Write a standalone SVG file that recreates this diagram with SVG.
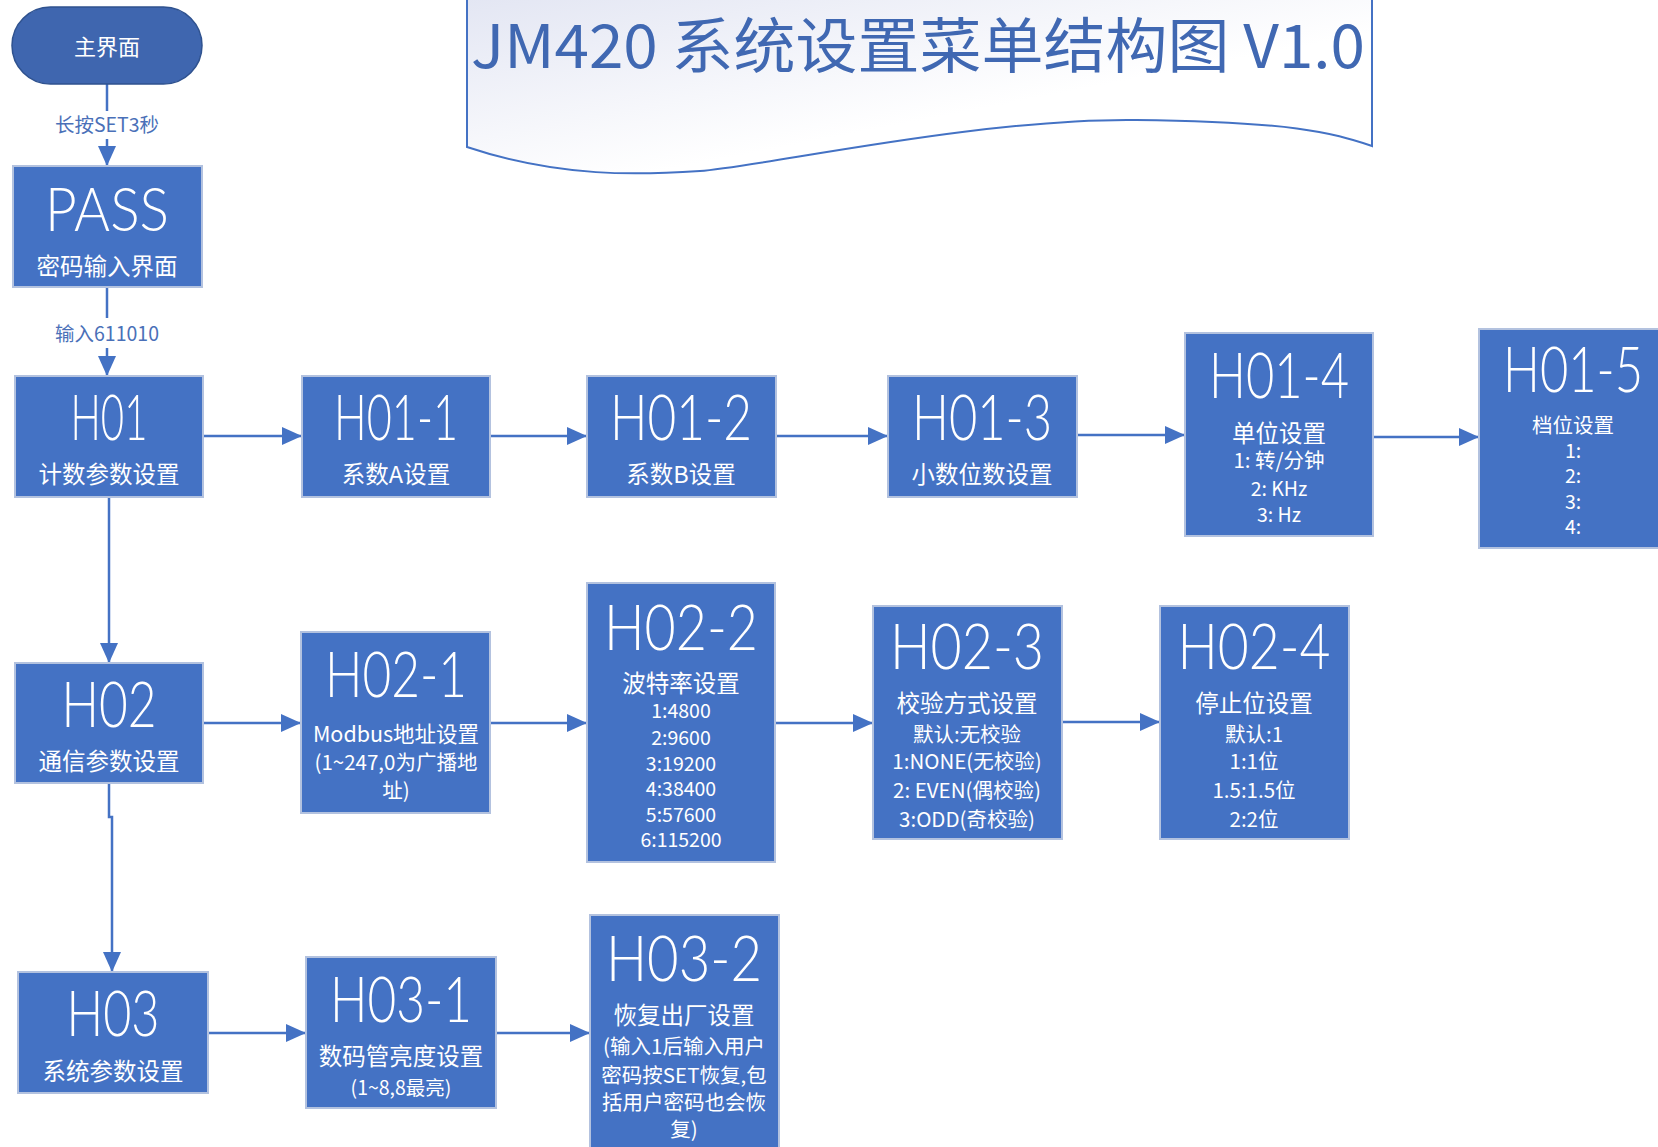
<svg xmlns="http://www.w3.org/2000/svg" width="1658" height="1147" viewBox="0 0 1658 1147">
<style>
.box{fill:#4472C4;stroke:#B3C2DF;stroke-width:2}
.big{font-family:Lato,"Open Sans","Liberation Sans",sans-serif;font-weight:300;font-size:64px;fill:#fff;text-anchor:middle}
.sub{font-family:"Noto Sans CJK SC","Noto Sans",sans-serif;font-size:23.5px;fill:#fff;text-anchor:middle}
.sm{font-family:"Noto Sans CJK SC","Noto Sans",sans-serif;font-size:20.5px;fill:#fff;text-anchor:middle}
.xs{font-family:"Noto Sans CJK SC","Noto Sans",sans-serif;font-size:19.5px;fill:#fff;text-anchor:middle}
.conn{fill:none;stroke:#4472C4;stroke-width:2.5}
.lbl{font-family:"Noto Sans CJK SC","Noto Sans",sans-serif;font-size:19.5px;fill:#4A70B8;text-anchor:middle}
</style>
<defs>
<marker id="arr" markerUnits="userSpaceOnUse" markerWidth="22" markerHeight="20" refX="20" refY="9" orient="auto">
<path d="M0,0 L20,9 L0,18 Z" fill="#4472C4"/>
</marker>
<linearGradient id="bg" x1="0" y1="0" x2="1" y2="1">
<stop offset="0" stop-color="#E3E6F3"/>
<stop offset="0.6" stop-color="#FFFFFF"/>
</linearGradient>
</defs>

<g id="title">
<path d="M467,-2 V147 C560,178 640,175 700,171 S980,118 1136,120 S1330,132 1372,146 V-2" fill="url(#bg)" stroke="#4472C4" stroke-width="2"/>
<text x="471" y="68" textLength="894" lengthAdjust="spacingAndGlyphs" font-family="'Noto Sans CJK SC','Noto Sans',sans-serif" font-size="60" fill="#4068B2">JM420 系统设置菜单结构图 V1.0</text>
</g>

<g id="connectors">
<path class="conn" d="M107,84 V166" marker-end="url(#arr)"/>
<rect x="50" y="111" width="115" height="28" fill="#fff"/>
<text class="lbl" x="107" y="132">长按SET3秒</text>
<path class="conn" d="M107,287 V376" marker-end="url(#arr)"/>
<rect x="50" y="318" width="115" height="30" fill="#fff"/>
<text class="lbl" x="107" y="341">输入611010</text>
<path class="conn" d="M203,436 H302" marker-end="url(#arr)"/>
<path class="conn" d="M490,436 H587" marker-end="url(#arr)"/>
<path class="conn" d="M776,436 H888" marker-end="url(#arr)"/>
<path class="conn" d="M1077,435 H1185" marker-end="url(#arr)"/>
<path class="conn" d="M1373,437 H1479" marker-end="url(#arr)"/>
<path class="conn" d="M109,497 V663" marker-end="url(#arr)"/>
<path class="conn" d="M109,783 V817 H112 V972" marker-end="url(#arr)"/>
<path class="conn" d="M203,723 H301" marker-end="url(#arr)"/>
<path class="conn" d="M490,723 H587" marker-end="url(#arr)"/>
<path class="conn" d="M775,723 H873" marker-end="url(#arr)"/>
<path class="conn" d="M1062,722 H1160" marker-end="url(#arr)"/>
<path class="conn" d="M208,1033 H306" marker-end="url(#arr)"/>
<path class="conn" d="M496,1033 H590" marker-end="url(#arr)"/>
</g>

<g id="main">
<rect x="12" y="7" width="190" height="77" rx="38.5" fill="#3F66AF" stroke="#2F528F" stroke-width="1.5"/>
<text class="sub" x="107" y="55" style="font-size:22px">主界面</text>
</g>

<g id="pass">
<rect class="box" x="13" y="166" width="189" height="121"/>
<text class="big" x="107" y="231" textLength="124" lengthAdjust="spacingAndGlyphs" style="font-size:62px">PASS</text>
<text class="sub" x="107" y="275">密码输入界面</text>
</g>

<g id="h01">
<rect class="box" x="15" y="376" width="188" height="121"/>
<text class="big" x="109" y="440" textLength="77" lengthAdjust="spacingAndGlyphs">H01</text>
<text class="sub" x="109" y="483">计数参数设置</text>
</g>

<g id="h01-1">
<rect class="box" x="302" y="376" width="188" height="121"/>
<text class="big" x="396" y="440" textLength="124" lengthAdjust="spacingAndGlyphs">H01-1</text>
<text class="sub" x="396" y="483">系数A设置</text>
</g>

<g id="h01-2">
<rect class="box" x="587" y="376" width="189" height="121"/>
<text class="big" x="681" y="440" textLength="142" lengthAdjust="spacingAndGlyphs">H01-2</text>
<text class="sub" x="681" y="483">系数B设置</text>
</g>

<g id="h01-3">
<rect class="box" x="888" y="376" width="189" height="121"/>
<text class="big" x="982" y="440" textLength="140" lengthAdjust="spacingAndGlyphs">H01-3</text>
<text class="sub" x="982" y="483">小数位数设置</text>
</g>

<g id="h01-4">
<rect class="box" x="1185" y="333" width="188" height="203"/>
<text class="big" x="1279" y="398" textLength="140" lengthAdjust="spacingAndGlyphs">H01-4</text>
<text class="sub" x="1279" y="442">单位设置</text>
<text class="sm" x="1279" y="468">1: 转/分钟</text>
<text class="xs" x="1279" y="496">2: KHz</text>
<text class="xs" x="1279" y="522">3: Hz</text>
</g>

<g id="h01-5">
<rect class="box" x="1479" y="329" width="190" height="219"/>
<text class="big" x="1573" y="392" textLength="140" lengthAdjust="spacingAndGlyphs">H01-5</text>
<text class="sm" x="1573" y="433">档位设置</text>
<text class="xs" x="1573" y="458">1:</text>
<text class="xs" x="1573" y="483">2:</text>
<text class="xs" x="1573" y="509">3:</text>
<text class="xs" x="1573" y="534">4:</text>
</g>

<g id="h02">
<rect class="box" x="15" y="663" width="188" height="120"/>
<text class="big" x="109" y="727" textLength="95" lengthAdjust="spacingAndGlyphs">H02</text>
<text class="sub" x="109" y="770">通信参数设置</text>
</g>

<g id="h02-1">
<rect class="box" x="301" y="632" width="189" height="181"/>
<text class="big" x="396" y="697" textLength="142" lengthAdjust="spacingAndGlyphs">H02-1</text>
<text class="sm" x="396" y="742" style="font-size:21.5px">Modbus地址设置</text>
<text class="sm" x="396" y="770">(1~247,0为广播地</text>
<text class="sm" x="396" y="798">址)</text>
</g>

<g id="h02-2">
<rect class="box" x="587" y="583" width="188" height="279"/>
<text class="big" x="681" y="650" textLength="154" lengthAdjust="spacingAndGlyphs">H02-2</text>
<text class="sub" x="681" y="692">波特率设置</text>
<text class="xs" x="681" y="718">1:4800</text>
<text class="xs" x="681" y="745">2:9600</text>
<text class="xs" x="681" y="771">3:19200</text>
<text class="xs" x="681" y="796">4:38400</text>
<text class="xs" x="681" y="822">5:57600</text>
<text class="xs" x="681" y="847">6:115200</text>
</g>

<g id="h02-3">
<rect class="box" x="873" y="606" width="189" height="233"/>
<text class="big" x="967" y="669" textLength="154" lengthAdjust="spacingAndGlyphs">H02-3</text>
<text class="sub" x="967" y="712">校验方式设置</text>
<text class="sm" x="967" y="742">默认:无校验</text>
<text class="sm" x="967" y="769">1:NONE(无校验)</text>
<text class="sm" x="967" y="798">2: EVEN(偶校验)</text>
<text class="sm" x="967" y="827">3:ODD(奇校验)</text>
</g>

<g id="h02-4">
<rect class="box" x="1160" y="606" width="189" height="233"/>
<text class="big" x="1254" y="669" textLength="153" lengthAdjust="spacingAndGlyphs">H02-4</text>
<text class="sub" x="1254" y="712">停止位设置</text>
<text class="sm" x="1254" y="742">默认:1</text>
<text class="sm" x="1254" y="769">1:1位</text>
<text class="sm" x="1254" y="798">1.5:1.5位</text>
<text class="sm" x="1254" y="827">2:2位</text>
</g>

<g id="h03">
<rect class="box" x="18" y="972" width="190" height="121"/>
<text class="big" x="113" y="1036" textLength="93" lengthAdjust="spacingAndGlyphs">H03</text>
<text class="sub" x="113" y="1080">系统参数设置</text>
</g>

<g id="h03-1">
<rect class="box" x="306" y="957" width="190" height="151"/>
<text class="big" x="401" y="1022" textLength="142" lengthAdjust="spacingAndGlyphs">H03-1</text>
<text class="sub" x="401" y="1065">数码管亮度设置</text>
<text class="xs" x="401" y="1095">(1~8,8最亮)</text>
</g>

<g id="h03-2">
<rect class="box" x="590" y="915" width="189" height="240"/>
<text class="big" x="684" y="981" textLength="156" lengthAdjust="spacingAndGlyphs">H03-2</text>
<text class="sub" x="684" y="1024">恢复出厂设置</text>
<text class="sm" x="684" y="1054">(输入1后输入用户</text>
<text class="sm" x="684" y="1083">密码按SET恢复,包</text>
<text class="sm" x="684" y="1110">括用户密码也会恢</text>
<text class="sm" x="684" y="1137">复)</text>
</g>
</svg>
